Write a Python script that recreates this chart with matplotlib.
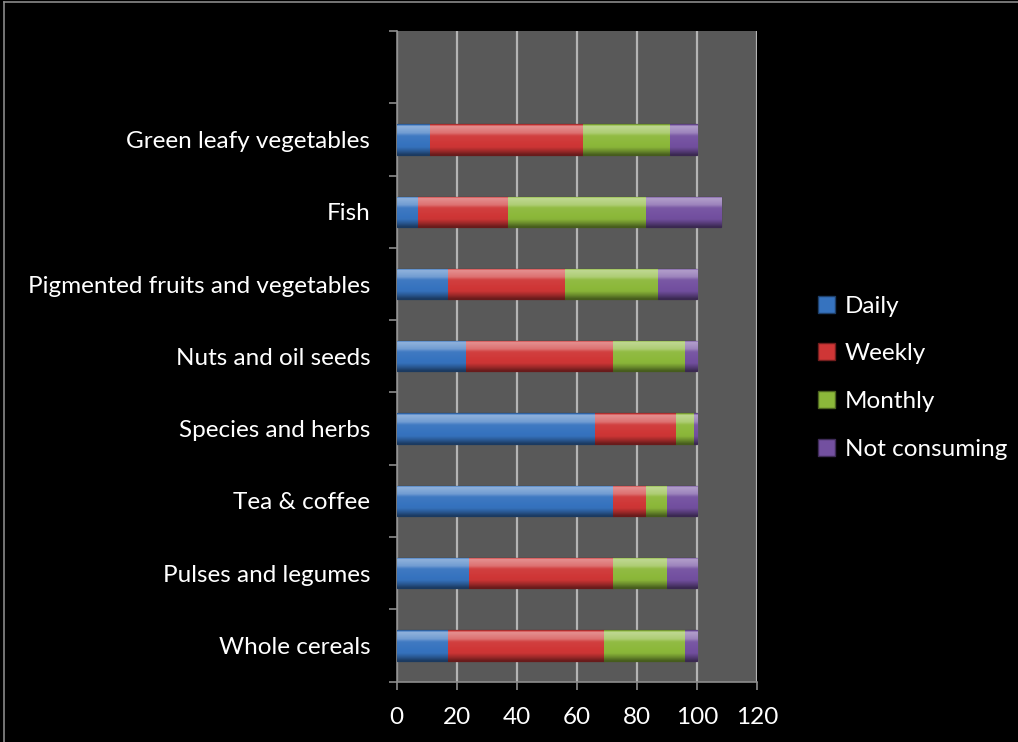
import numpy as np
import matplotlib.pyplot as plt
from matplotlib.colors import to_rgb
from matplotlib.lines import Line2D

plt.rcParams['font.family'] = ['Lato', 'DejaVu Sans']

# food groups, bottom to top
foods = ['Whole cereals', 'Pulses and legumes', 'Tea & coffee', 'Species and herbs',
         'Nuts and oil seeds', 'Pigmented fruits and vegetables', 'Fish',
         'Green leafy vegetables']
daily = [17, 24, 72, 66, 23, 17, 7, 11]
weekly = [52, 48, 11, 27, 49, 39, 30, 51]
monthly = [27, 18, 7, 6, 24, 31, 46, 29]
not_consuming = [4, 10, 10, 1, 4, 13, 25, 9]

series = [('Daily', daily, '#3673bf'),
          ('Weekly', weekly, '#cf3636'),
          ('Monthly', monthly, '#8cb83a'),
          ('Not consuming', not_consuming, '#7350a0')]


def shade(c, f):
    c = np.array(to_rgb(c))
    if f >= 0:
        return tuple(c + (1 - c) * f)
    return tuple(c * (1 + f))


def bevel(color):
    # vertical profile: dark rim, light band on top, darker bottom
    stops = [(0.0, -0.3), (0.06, 0.45), (0.28, 0.3), (0.38, 0.05),
             (0.75, -0.02), (0.88, -0.25), (1.0, -0.5)]
    t = np.linspace(0, 1, 80)
    pos = [s[0] for s in stops]
    fac = [s[1] for s in stops]
    f = np.interp(t, pos, fac)
    return np.array([shade(color, v) for v in f]).reshape(-1, 1, 3)


fig = plt.figure(figsize=(10.18, 7.42), dpi=100, facecolor='black')
ax = fig.add_axes([0.3897, 0.0813, 0.354, 0.877])
ax.set_facecolor('#595959')

y = np.arange(len(foods))
left = np.zeros(len(foods))
for name, vals, col in series:
    bars = ax.barh(y, vals, 0.42, left=left, color=col, label=name,
                   edgecolor=shade(col, -0.5), linewidth=0.9, zorder=3)
    grad = bevel(col)
    for b in bars:
        x0, y0, w, h = b.get_x(), b.get_y(), b.get_width(), b.get_height()
        im = ax.imshow(grad, extent=[x0, x0 + w, y0, y0 + h], aspect='auto',
                       origin='upper', zorder=3.5, interpolation='bilinear')
        im.set_clip_path(b)
    left += np.array(vals)

ax.set_xlim(0, 120)
ax.set_ylim(-0.5, 8.5)
ax.set_xticks(np.arange(0, 121, 20))
ax.grid(axis='x', color='#b4b4b4', linewidth=1.6, zorder=1)
ax.set_axisbelow(True)

ax.set_yticks(y)
ax.set_yticklabels(foods)
ax.set_yticks(np.arange(-0.5, 9, 1), minor=True)
ax.tick_params(axis='y', which='major', length=0, pad=19, labelsize=17.5, labelcolor='white')
ax.tick_params(axis='y', which='minor', length=6, width=1.2, color='#8c8c8c')
ax.tick_params(axis='x', length=6, width=1.2, color='#8c8c8c', pad=12,
               labelsize=17.5, labelcolor='white')

for s in ['top', 'right']:
    ax.spines[s].set_visible(False)
for s in ['left', 'bottom']:
    ax.spines[s].set_color('#8c8c8c')
    ax.spines[s].set_linewidth(1.2)

handles = [plt.Rectangle((0, 0), 1, 1, facecolor=c, edgecolor=shade(c, -0.45))
           for _, _, c in series]
leg = fig.legend(handles, [s[0] for s in series], loc='center left',
                 bbox_to_anchor=(0.782, 0.491), frameon=False, fontsize=17.5,
                 handlelength=0.7, handleheight=0.7, handletextpad=0.4,
                 labelspacing=1.1, labelcolor='white')

# thin frame on the top and left edges
fig.add_artist(Line2D([0.004, 1], [0.997, 0.997], color='#8a8a8a', linewidth=1.2))
fig.add_artist(Line2D([0.004, 0.004], [0, 0.997], color='#8a8a8a', linewidth=1.2))

fig.savefig('out.png', dpi=100, facecolor='black')
